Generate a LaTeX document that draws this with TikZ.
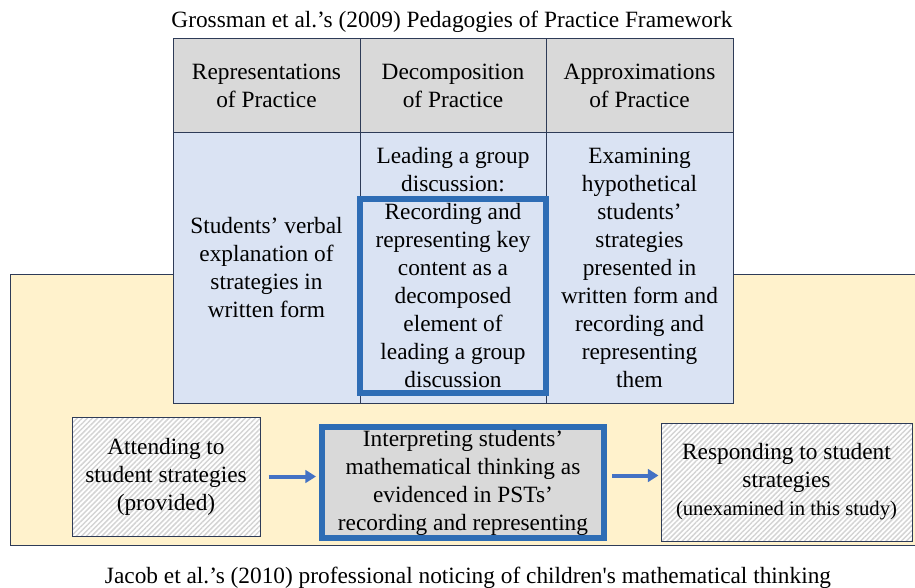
\documentclass[tikz,border=0pt]{standalone}
\usepackage{fontspec}
\setmainfont{Liberation Serif}[Ligatures=TeXOff]
\usepackage{tikz}
\usetikzlibrary{arrows.meta,patterns.meta}

\definecolor{headgrey}{HTML}{D9D9D9}
\definecolor{bodyblue}{HTML}{DAE3F3}
\definecolor{creamyellow}{HTML}{FFF2CC}
\definecolor{edgenavy}{HTML}{2E3B57}
\definecolor{keyblue}{HTML}{2E6DB5}
\definecolor{flowblue}{HTML}{4472C4}

\tikzset{
  txt/.style={align=center,inner sep=0.75pt,font=\fontsize{17.5}{21}\selectfont},
  hatchbox/.style={draw=edgenavy,line width=0.75pt,
    preaction={fill=white},
    pattern={Lines[angle=45,distance=2.7pt,line width=1.1pt]},pattern color=black!17},
  keyframe/.style={draw=keyblue,line width=4.5pt},
  flow/.style={draw=flowblue,line width=3pt,-{Triangle[length=8pt,width=9.5pt]}}
}

\begin{document}
\begin{tikzpicture}[x=0.75pt,y=0.75pt,yscale=-1,xscale=1]
\useasboundingbox (0,0) rectangle (915,587);

        %Shape: Rectangle (noticing frame)
        \draw [draw=edgenavy,fill=creamyellow,line width=0.75pt] (10,274) -- (930,274) -- (930,545) -- (10,545) -- cycle ;

        %Shape: Rectangle (table header row)
        \draw [fill=headgrey,draw=none] (173,38) -- (733,38) -- (733,132) -- (173,132) -- cycle ;
        %Shape: Rectangle (table body row)
        \draw [fill=bodyblue,draw=none] (173,132) -- (733,132) -- (733,403) -- (173,403) -- cycle ;
        %Straight Lines (table grid)
        \draw [draw=edgenavy,line width=0.75pt] (173,38) -- (733,38) -- (733,403) -- (173,403) -- cycle ;
        \draw [draw=edgenavy,line width=0.75pt] (173,132) -- (733,132) ;
        \draw [draw=edgenavy,line width=0.75pt] (360,38) -- (360,403) ;
        \draw [draw=edgenavy,line width=0.75pt] (546,38) -- (546,403) ;

        % Text Node
        \node [txt] (title) at (452,22) {Grossman et al.’s (2009) Pedagogies of Practice Framework};
        % Text Node
        \node [txt] (rephead) at (266.5,86) {Representations\\of Practice};
        % Text Node
        \node [txt] (dechead) at (453,86) {Decomposition\\of Practice};
        % Text Node
        \node [txt] (apphead) at (639.5,86) {Approximations\\of Practice};
        % Text Node
        \node [txt] (repbody) at (266.5,268) {Students’ verbal\\explanation of\\strategies in\\written form};
        % Text Node
        \node [txt] (decbody) at (453,268) {Leading a group\\discussion:\\Recording and\\representing key\\content as a\\decomposed\\element of\\leading a group\\discussion};
        % Text Node
        \node [txt] (appbody) at (639.5,268) {Examining\\hypothetical\\students’\\strategies\\presented in\\written form and\\recording and\\representing\\them};

        %Shape: Rectangle (decomposed element)
        \node [keyframe,minimum width=139.5pt,minimum height=145.5pt] (keyelem) at (453,296) {};

        %Shape: Rectangle (attending)
        \node [hatchbox,txt,minimum width=141pt,minimum height=89.25pt] (attend) at (166,476.5) {Attending to\\student strategies\\(provided)};
        %Shape: Rectangle (interpreting)
        \node [keyframe,fill=headgrey,txt,minimum width=211.5pt,minimum height=83.25pt] (interp) at (463,482.5) {Interpreting students’\\mathematical thinking as\\evidenced in PSTs’\\recording and representing};
        %Shape: Rectangle (responding)
        \node [hatchbox,txt,minimum width=188.25pt,minimum height=88.5pt] (respond) at (786.5,482) {Responding to student\\strategies\\{\fontsize{15.5}{21}\selectfont (unexamined in this study)}};

        %Straight Lines
        \draw [flow,shorten <=6pt,shorten >=2.25pt] (attend.east) -- (attend.east -| interp.west) ;
        \draw [flow,shorten <=3.75pt,shorten >=1.5pt] ([yshift=-5.25pt]interp.east) -- ([yshift=-5.25pt]interp.east -| respond.west) ;

        % Text Node
        \node [txt] (caption) at (468,578) {Jacob et al.’s (2010) professional noticing of children's mathematical thinking};

\end{tikzpicture}
\end{document}
